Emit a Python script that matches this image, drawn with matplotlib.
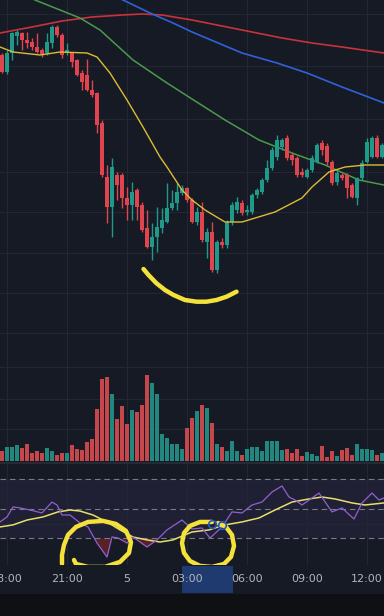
import matplotlib
matplotlib.use("Agg")
import matplotlib.pyplot as plt
import numpy as np
from matplotlib.patches import Rectangle
from matplotlib.transforms import blended_transform_factory

# --- data (15 min candles, index 0 = 17:45) ---
opens  = [445,428,447,464,467,460,458,453,450,447,457,473,465,447,447,440,427,425,410,407,
          377,323,293,325,325,302,295,310,295,272,253,263,272,278,292,297,307,312,300,278,
          288,258,268,230,258,255,278,290,297,288,288,305,308,320,332,343,353,362,345,342,
          328,323,330,338,357,354,338,318,325,325,315,302,322,338,343,362,343]
highs  = [447,450,468,470,468,468,462,467,452,467,475,475,467,457,448,441,430,441,420,408,
          380,335,342,328,327,313,318,312,298,290,277,293,292,317,310,317,315,313,302,293,
          298,272,278,260,262,280,298,303,300,295,307,312,322,340,353,365,362,365,347,344,
          332,332,345,357,360,357,340,330,327,327,317,323,340,362,364,365,357]
lows   = [427,426,440,455,450,452,450,447,443,445,452,463,442,445,433,424,410,409,403,367,
          323,277,263,300,292,280,280,280,268,252,240,248,267,277,290,290,305,298,277,275,
          258,242,228,227,252,252,275,287,285,285,286,302,306,318,330,340,350,340,335,323,
          323,322,328,337,345,335,315,315,320,302,302,295,320,337,342,342,342]
closes = [428,447,467,468,460,457,453,448,446,458,473,465,445,450,438,425,418,410,405,375,
          325,293,333,315,302,295,308,293,270,253,263,273,280,292,297,308,312,300,278,288,
          260,268,230,258,255,278,295,298,287,290,305,310,320,332,350,360,360,342,340,325,
          325,330,342,355,350,338,317,327,322,312,303,322,337,358,362,343,355]
volume = [100,140,140,160,130,170,80,100,80,130,100,60,80,80,160,120,110,190,220,520,
          820,840,670,420,550,370,510,490,560,860,780,670,270,230,170,170,120,330,430,500,
          560,530,380,170,140,100,200,100,60,120,140,140,100,200,200,200,110,120,80,120,
          50,90,70,50,150,40,100,50,110,130,60,170,120,120,110,60,80]

ma_red_x = [-0.4, 6, 12, 18, 24, 28, 32, 38, 44, 50, 56, 62, 68, 76.4]
ma_red = [467, 473, 479, 483, 485, 486, 485, 480, 474, 468, 462, 457, 453, 447]
ma_blue_x = [19, 24.2, 29.6, 34.2, 38, 48, 55, 61, 68, 76.4]
ma_blue = [512, 500, 487, 477, 468, 447, 437, 427, 413, 397]
ma_green_x = [3.6, 6.6, 15.6, 19.6, 26.2, 33, 38, 44.6, 51.4, 58, 64.6, 71.4, 76.4]
ma_green = [508, 500, 482, 470, 440, 417, 401, 380, 360, 347, 335, 320, 315]
ma_yel_x = [-0.4, 2.2, 7.6, 11.6, 17, 19, 21.6, 25, 28.2, 31.6, 33, 36, 38, 40.6, 44.6,
            48, 54.6, 60, 62, 65.4, 68.6, 72.6, 76.4]
ma_yel = [453, 448, 445, 448, 447, 443, 427, 400, 373, 343, 333, 310, 300, 290, 278,
          278, 288, 302, 313, 328, 333, 335, 335]

rsi_x = [-0.4, 1, 2.2, 3.6, 5.6, 8, 10, 11, 12, 13.6, 15.6, 17.2, 19, 21, 22, 23.2, 25,
         26.2, 29, 31, 33, 36, 38, 40, 41.6, 44, 46, 48, 50, 52, 54, 56, 57.4, 58.6, 60,
         63.4, 66, 68, 70.4, 72, 74, 75.4, 76.4]
rsi = [41.2, 44.6, 51.4, 50.7, 49.3, 47.3, 54.7, 52.7, 45.9, 45.9, 40.5, 37.8, 26.9,
       17.4, 31.0, 30.3, 26.9, 31.0, 24.2, 29.0, 35.8, 42.5, 36.4, 37.1, 30.3, 37.8, 48.0,
       47.3, 52.7, 54.7, 61.5, 65.6, 58.1, 56.1, 52.7, 60.8, 48.0, 50.7, 43.2, 54.1, 60.8,
       56.1, 57.5]
rsi_ma_x = [-0.4, 2.2, 5, 8.2, 11.2, 13.6, 15.6, 18.2, 21, 23.6, 26.2, 29, 31.6, 34.2, 38,
            41.4, 44.6, 48, 51.4, 54.6, 58, 61.4, 64, 66.6, 70, 72.6, 76.4]
rsi_ma = [37.8, 39.2, 42.5, 44.6, 48.0, 49.3, 48.6, 45.9, 41.2, 35.8, 31.0, 29.0, 27.6,
          29.0, 34.4, 35.8, 39.2, 41.2, 43.9, 49.3, 54.7, 56.8, 58.1, 56.8, 54.1, 52.7, 54.1]

time_pos = [1, 13, 25, 37, 49, 61, 73]
time_labels = ['18:00', '21:00', '5', '03:00', '06:00', '09:00', '12:00']
price_grid = [486, 434, 381, 328, 288, 247, 207, 167, 133, 101, 71]

# hand drawn marks (candle index, value)
arc_main = [(28.3, 231), (29.3, 225), (30.9, 216.7), (32.6, 210), (34.3, 205), (36.6, 200),
            (38.9, 198.3), (40.9, 198.3), (42.9, 200), (44.9, 203.3), (46.9, 208.3)]
circle1 = [(12, 12.7), (12, 18.8), (12.4, 25.6), (13.2, 32.4), (14.8, 37.8), (17.2, 41.2),
           (20.2, 41.9), (22.8, 39.8), (24.8, 35.1), (25.8, 27.6), (25.4, 20.2), (23.6, 14.1),
           (20.6, 10.7), (17.2, 10.7), (14.8, 12.7), (14.4, 15.4)]
circle2 = [(42, 41.2), (39.6, 41.2), (37.6, 38.5), (36.4, 33.7), (36, 26.9), (36.4, 20.2),
           (37.6, 14.7), (39.6, 11.4), (42, 10.7), (44.4, 12.7), (45.8, 17.5), (46.4, 24.9),
           (46, 32.4), (44.8, 37.8), (43.2, 40.5)]
anchors = [(42, 39.8), (44, 39.2)]

BG = '#161a25'
GRID = '#232733'
UP, DOWN = '#1f9a8a', '#e0454f'
TXT = '#b2b5be'
HAND = '#f4e23a'

W, H = 384, 616
fig = plt.figure(figsize=(W / 100, H / 100), dpi=100, facecolor=BG)

def fy(px):
    return 1 - px / H

xlim = (-0.4, 76.4)
idx = np.arange(len(opens))
o, hi, lo, c = map(np.array, (opens, highs, lows, closes))
up = c >= o
cols = np.where(up, UP, DOWN)

# main pane
ax = fig.add_axes([0, fy(462), 1, fy(0) - fy(462)], facecolor=BG)
ax.set_xlim(xlim)
ax.set_ylim(38, 500)
ax.set_xticks(time_pos)
ax.set_yticks(price_grid)
ax.grid(True, color=GRID, lw=0.8)
ax.tick_params(length=0, labelbottom=False, labelleft=False)
for s in ax.spines.values():
    s.set_visible(False)

ax.plot(ma_red_x, ma_red, color='#c8323c', lw=1.2, zorder=2)
ax.plot(ma_blue_x, ma_blue, color='#2f62d6', lw=1.2, zorder=2)
ax.plot(ma_green_x, ma_green, color='#4b9a4c', lw=1.1, zorder=2)
ax.vlines(idx, lo, hi, colors=cols, lw=1, zorder=3)
body = np.maximum(np.abs(c - o), 1.2)
ax.bar(idx, body, bottom=np.minimum(o, c), width=0.62, color=cols, zorder=4)
ax.plot(ma_yel_x, ma_yel, color='#dcbc34', lw=1.0, zorder=5)
ax.plot(*zip(*arc_main), color=HAND, lw=3.2, solid_capstyle='round', zorder=6)

# volume overlay
axv = ax.twinx()
axv.set_ylim(-10, 4610)
axv.bar(idx, volume, width=0.76, color=np.where(up, '#22877e', '#c5474c'), zorder=2)
axv.set_yticks([])
axv.tick_params(length=0, labelright=False)
for s in axv.spines.values():
    s.set_visible(False)

# separator
fig.add_artist(plt.Line2D([0, 1], [fy(463), fy(463)], color='#2a2e39', lw=1.2))

# RSI pane
ar = fig.add_axes([0, fy(565), 1, fy(464) - fy(565)], facecolor=BG)
ar.set_xlim(xlim)
ar.set_ylim(12, 80.5)
ar.set_xticks(time_pos)
ar.set_yticks([40])
ar.grid(True, color=GRID, lw=0.8)
ar.tick_params(length=0, labelbottom=False, labelleft=False)
for s in ar.spines.values():
    s.set_visible(False)
ar.axhspan(30, 70, color='#7e57c2', alpha=0.1, lw=0)
for lvl in (70, 50, 30):
    ar.axhline(lvl, color='#787b86', lw=0.8, dashes=(5, 3.5))
rx, rv = np.array(rsi_x), np.array(rsi)
ar.fill_between(rx, rv, 30, where=rv < 30, interpolate=True, color='#d32f2f', alpha=0.35, lw=0)
ar.plot(rsi_ma_x, rsi_ma, color='#e6df6c', lw=1.1, zorder=3)
ar.plot(rx, rv, color='#9060d0', lw=0.9, zorder=4)
ar.plot(*zip(*circle1), color=HAND, lw=3.2, solid_capstyle='round', zorder=6)
ar.plot(*zip(*circle2), color=HAND, lw=3.2, solid_capstyle='round', zorder=6)
ar.plot(*zip(*anchors), 'o', ms=5.5, mfc='none', mec='#2457c5', mew=1.2, zorder=7)

# time axis
tr = blended_transform_factory(ar.transData, fig.transFigure)
fig.add_artist(Rectangle((36, fy(593)), 10.2, fy(566) - fy(593), transform=tr,
                         color='#1f3a6e', lw=0))
for p, lab in zip(time_pos, time_labels):
    fig.text(p, fy(579), lab, transform=tr, ha='center', va='center',
             color=TXT, fontsize=8)
fig.add_artist(Rectangle((0, 0), 1, fy(594), transform=fig.transFigure,
                         color='#0f1014', lw=0))

plt.savefig('out.png', dpi=100, facecolor=BG)
